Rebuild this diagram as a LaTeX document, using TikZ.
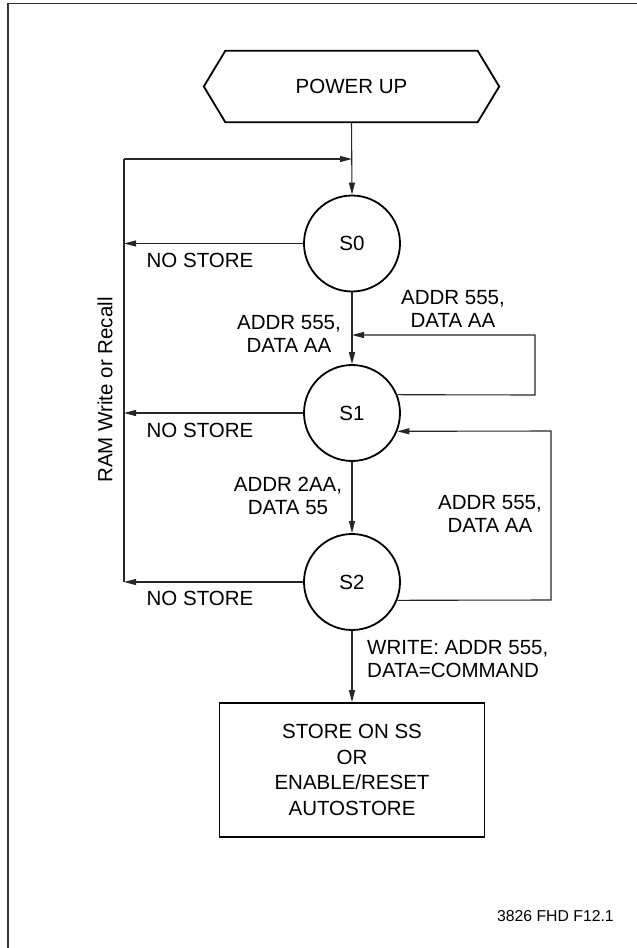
\documentclass[tikz,border=0pt]{standalone}
\usepackage{fontspec}
\setmainfont{Liberation Sans}
\usetikzlibrary{arrows.meta,calc}
\begin{document}
\begin{tikzpicture}[x=1pt,y=-1pt,
  lbl/.style={font=\fontsize{20.5}{23}\selectfont, inner sep=0pt, align=center},
  state/.style={circle, draw, line width=1.8pt, minimum size=96pt, inner sep=0pt, font=\fontsize{20.5}{23}\selectfont},
  conn/.style={line width=1.1pt, draw=black!85},
  arr/.style={conn, -{Triangle[length=12pt,width=6pt]}},
  framel/.style={line width=1.5pt, draw=black!80}
]
\useasboundingbox (0,0) rectangle (637,948);
% frame
\draw[framel] (8,948) -- (8,3.5) -- (637,3.5);

% power up hexagon
\node[lbl, minimum width=295pt, minimum height=71pt] (pu) at (351.5,86.5) {POWER UP};
\draw[line width=1.8pt] (pu.west) -- ($(pu.north west)+(21.5,0)$) -- ($(pu.north east)+(-21.5,0)$)
  -- (pu.east) -- ($(pu.south east)+(-21.5,0)$) -- ($(pu.south west)+(21.5,0)$) -- cycle;

% states
\node[state] (S0) at (352,243.5) {S0};
\node[state] (S1) at (352,413) {S1};
\node[state] (S2) at (352,582) {S2};
\node[draw, line width=1.8pt, minimum width=265pt, minimum height=134pt, inner sep=0pt,
  align=center, font=\fontsize{20.5}{25.4}\selectfont] (box) at (352,770)
  {STORE ON SS\\OR\\ENABLE/RESET\\AUTOSTORE};

% coordinates
\coordinate (J0) at (352,159);
\coordinate (LT) at (124,159);
\coordinate (L0) at (124,243.5);
\coordinate (L1) at (124,413);
\coordinate (L2) at (124,582);
\coordinate (J1) at (352,335);
\coordinate (R1a) at (535,395);
\coordinate (R1b) at (535,335);
\coordinate (R2a) at (551,600);
\coordinate (R2b) at (551,431);

% main flow
\draw[arr] (pu.south) -- (S0.north);
\draw[arr] (S0.south) -- (S1.north);
\draw[arr] (S1.south) -- (S2.north);
\draw[arr] (S2.south) -- (box.north);

% no store returns
\draw[arr] (S0.west) -- (L0);
\draw[arr] (S1.west) -- (L1);
\draw[arr] (S2.west) -- (L2);
\draw[conn] (L2) -- (LT);
\draw[arr] (LT) -- (J0);

% loops
\draw[arr] (S1.22) -- (R1a) -- (R1b) -- (J1);
\draw[arr] (S2.-22) -- (R2a) -- (R2b) -- (S1.-22);

% labels
\node[lbl] (nS0) at (200,260) {NO STORE};
\node[lbl] (nS1) at (200,430) {NO STORE};
\node[lbl] (nS2) at (200,598) {NO STORE};
\node[lbl] (a01) at (289,333.5) {ADDR 555,\\DATA AA};
\node[lbl] (a11) at (453,309) {ADDR 555,\\DATA AA};
\node[lbl] (a12) at (288,495.5) {ADDR 2AA,\\DATA 55};
\node[lbl] (a21) at (490,514) {ADDR 555,\\DATA AA};
\node[lbl, align=left, anchor=west] (aw) at (367,659) {WRITE: ADDR 555,\\DATA=COMMAND};
\node[lbl, rotate=90] (ram) at (105,390) {RAM Write or Recall};
\node[font=\fontsize{15.8}{18}\selectfont, inner sep=0pt, anchor=east] (fig) at (614,916) {3826 FHD F12.1};
\end{tikzpicture}
\end{document}
